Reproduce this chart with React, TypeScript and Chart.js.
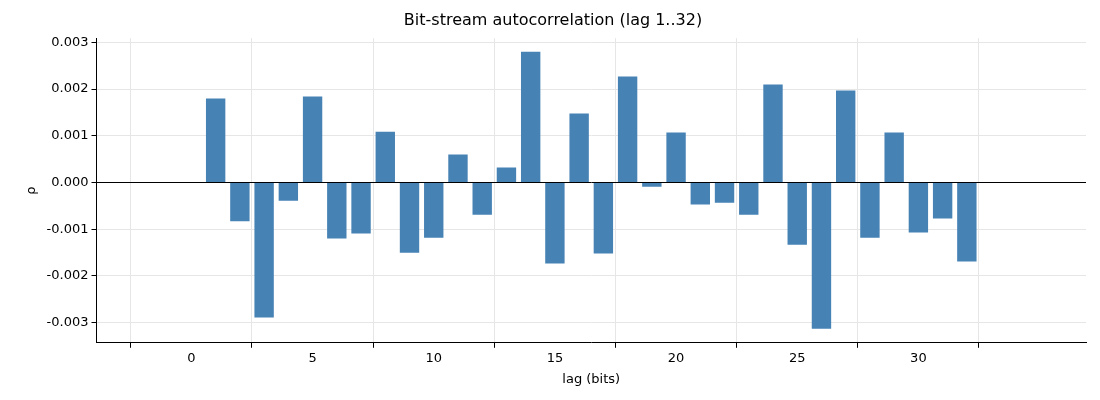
import React, { useEffect, useRef } from "react";
import { Chart, registerables } from "chart.js";
Chart.register(...registerables);

const lags = [1,2,3,4,5,6,7,8,9,10,11,12,13,14,15,16,17,18,19,20,21,22,23,24,25,26,27,28,29,30,31,32];
const rho = [0.00180,-0.00083,-0.00289,-0.00039,0.00184,-0.00120,-0.00109,0.00109,-0.00150,-0.00118,0.00060,-0.00069,0.00032,0.00280,-0.00173,0.00148,-0.00152,0.00227,-0.00009,0.00107,-0.00047,-0.00043,-0.00069,0.00210,-0.00133,-0.00313,0.00197,-0.00118,0.00107,-0.00107,-0.00077,-0.00169];
const xTicks = [0, 5, 10, 15, 20, 25, 30];
const yTicks = [-0.003, -0.002, -0.001, 0, 0.001, 0.002, 0.003];

export default function App() {
  const ref = useRef<HTMLCanvasElement>(null);
  useEffect(() => {
    const font = { family: "DejaVu Sans", size: 13 };
    const chart = new Chart(ref.current!, {
      type: "bar",
      data: {
        datasets: [{
          data: lags.map((l, i) => ({ x: l, y: rho[i] })),
          backgroundColor: "#4682b4",
          categoryPercentage: 1,
          barPercentage: 0.8,
        }],
      },
      options: {
        animation: false,
        responsive: false,
        layout: { padding: { left: 20, right: 14, top: 7, bottom: 11 } },
        plugins: {
          legend: { display: false },
          tooltip: { enabled: false },
          title: { display: true, text: "Bit-stream autocorrelation (lag 1..32)", color: "#000", font: { family: "DejaVu Sans", size: 16, weight: "normal" }, padding: { top: 4, bottom: 8 } },
        },
        scales: {
          x: {
            type: "linear", min: -1, max: 34,
            afterBuildTicks: (s: any) => { s.ticks = xTicks.map(v => ({ value: v })); },
            ticks: { color: "#000", font, callback: (v: any) => String(v) },
            grid: { color: "#e6e6e6", tickColor: "#000", tickLength: 5 },
            border: { color: "#000" },
            title: { display: true, text: "lag (bits)", color: "#000", font, padding: 2 },
          },
          y: {
            min: -0.00343, max: 0.00309,
            afterBuildTicks: (s: any) => { s.ticks = yTicks.map(v => ({ value: v })); },
            ticks: { color: "#000", font, callback: (v: any) => Number(v).toFixed(3) },
            grid: { color: (c: any) => (c.tick && Math.abs(c.tick.value) < 1e-12 ? "#000" : "#e6e6e6"), tickColor: "#000", tickLength: 5 },
            border: { color: "#000" },
            title: { display: true, text: "ρ", color: "#000", font },
          },
        },
      },
    });
    return () => chart.destroy();
  }, []);
  return (
    <div style={{ position: "fixed", left: 0, top: 0, width: 1100, height: 400, background: "#fff" }}>
      <canvas ref={ref} width={1100} height={400} />
    </div>
  );
}
